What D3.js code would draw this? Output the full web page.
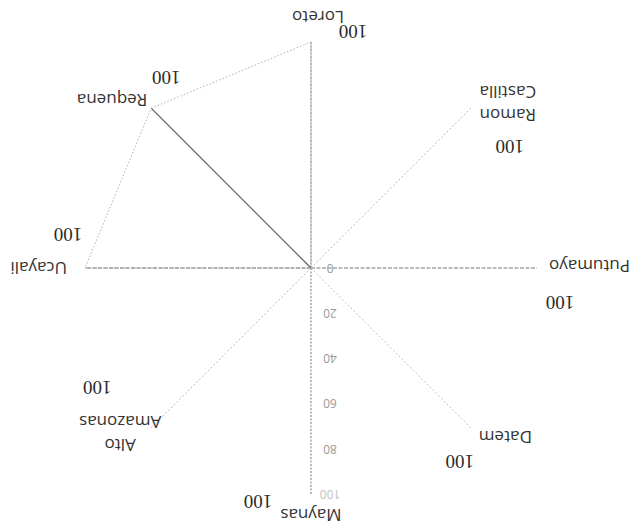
<!DOCTYPE html>
<html>
<head>
<meta charset="utf-8">
<script src="https://cdn.jsdelivr.net/npm/d3@7"></script>
<style>
  body { margin: 0; background: #fff; }
  svg { display: block; }
</style>
</head>
<body>
<svg id="chart" width="639" height="530"></svg>
<script>
// radar of the Loreto provinces (scan is upside down, so the whole chart is turned 180 deg)
let categories = ["Maynas", "Alto Amazonas", "Ucayali", "Requena", "Loreto", "Ramon Castilla", "Putumayo", "Datem"];
let values = [0, 0, 100, 100, 100, 0, 0, 0];
let tickValues = [0, 20, 40, 60, 80, 100];
let maxLabel = "100";

// label offsets from the end of each axis (unrotated frame)
let nameOffsets = [
    {dx: 0, dy: -21, anchor: "middle", lh: 0},
    {dx: 31, dy: -17, anchor: "middle", lh: 23},
    {dx: 18, dy: 0, anchor: "start", lh: 0},
    {dx: 4, dy: 8, anchor: "start", lh: 0},
    {dx: -7, dy: 25, anchor: "middle", lh: 0},
    {dx: -37, dy: -7, anchor: "middle", lh: 23},
    {dx: -12, dy: 2, anchor: "end", lh: 0},
    {dx: -8, dy: -9, anchor: "end", lh: 0}
];
let maxOffsets = [
    {dx: 53, dy: -8}, {dx: 54, dy: 40}, {dx: 17, dy: 33}, {dx: -15, dy: 31},
    {dx: -42, dy: 10}, {dx: -39, dy: -38}, {dx: -23, dy: -35}, {dx: 11, dy: -34}
];
let axisStyles = [
    {stroke: "#777", dash: "2,1.5", w: 1},
    {stroke: "#bbb", dash: "2,2", w: 1},
    {stroke: "#666", dash: "4,1.5", w: 1},
    {stroke: "#555", dash: null, w: 1.1},
    {stroke: "#777", dash: "2,1.5", w: 1},
    {stroke: "#bbb", dash: "2,2", w: 1},
    {stroke: "#777", dash: "4,1.5", w: 1},
    {stroke: "#c4c4c4", dash: "2,2", w: 1}
];

let width = 639, height = 530;
let cx = 328, cy = 262, radius = 226;

let svg = d3.select("#chart");
let root = svg.append("g")
    .attr("transform", "rotate(180," + width / 2 + "," + height / 2 + ")");
let g = root.append("g").attr("transform", "translate(" + cx + "," + cy + ")");

let r = d3.scaleLinear().domain([0, 100]).range([0, radius]);
let angle = d3.scaleLinear().domain([0, categories.length]).range([0, 2 * Math.PI]);

function pos(i, v) {
    let a = angle(i);
    return {x: r(v) * Math.sin(a), y: -r(v) * Math.cos(a)};
}

// axes
g.append("g")
    .selectAll("line")
    .data(categories)
    .enter().append("line")
    .attr("x1", 0).attr("y1", 0)
    .attr("x2", function(d, i) { return pos(i, 100).x; })
    .attr("y2", function(d, i) { return pos(i, 100).y; })
    .style("stroke", function(d, i) { return axisStyles[i].stroke; })
    .style("stroke-width", function(d, i) { return axisStyles[i].w; })
    .style("stroke-dasharray", function(d, i) { return axisStyles[i].dash; });

// series
let radial = d3.lineRadial()
    .angle(function(d, i) { return angle(i); })
    .radius(function(d) { return r(d); })
    .curve(d3.curveLinearClosed);

g.append("path")
    .attr("d", radial(values))
    .style("fill", "none")
    .style("stroke", "#b0b0b0")
    .style("stroke-width", 1)
    .style("stroke-dasharray", "1.5,2");

// tick labels on the first axis
g.append("g")
    .selectAll("text")
    .data(tickValues)
    .enter().append("text")
    .attr("x", -19)
    .attr("y", function(d) { return -r(d); })
    .attr("dy", "0.35em")
    .attr("text-anchor", "middle")
    .style("font-family", "'Open Sans', sans-serif")
    .style("font-size", "12px")
    .style("fill", function(d) { return d == 100 ? "#c2c2c2" : "#9a9a9a"; })
    .text(function(d) { return d; });

// category names
let names = g.append("g")
    .selectAll("text")
    .data(categories)
    .enter().append("text")
    .attr("x", function(d, i) { return pos(i, 100).x + nameOffsets[i].dx; })
    .attr("y", function(d, i) { return pos(i, 100).y + nameOffsets[i].dy; })
    .attr("text-anchor", function(d, i) { return nameOffsets[i].anchor; })
    .style("font-family", "'Open Sans', sans-serif")
    .style("font-size", "17px")
    .style("fill", "#333");

names.each(function(d, i) {
    let t = d3.select(this);
    let o = nameOffsets[i];
    let parts = o.lh ? d.split(" ") : [d];
    parts.forEach(function(p, k) {
        t.append("tspan")
            .attr("x", pos(i, 100).x + o.dx)
            .attr("dy", k == 0 ? "0.35em" : o.lh)
            .text(p);
    });
});

// max value labels
g.append("g")
    .selectAll("text")
    .data(categories)
    .enter().append("text")
    .attr("x", function(d, i) { return pos(i, 100).x + maxOffsets[i].dx; })
    .attr("y", function(d, i) { return pos(i, 100).y + maxOffsets[i].dy; })
    .attr("dy", "0.35em")
    .attr("text-anchor", "middle")
    .style("font-family", "'Liberation Serif', serif")
    .style("font-size", "19px")
    .style("fill", "#2a2a2a")
    .text(maxLabel);
</script>
</body>
</html>
